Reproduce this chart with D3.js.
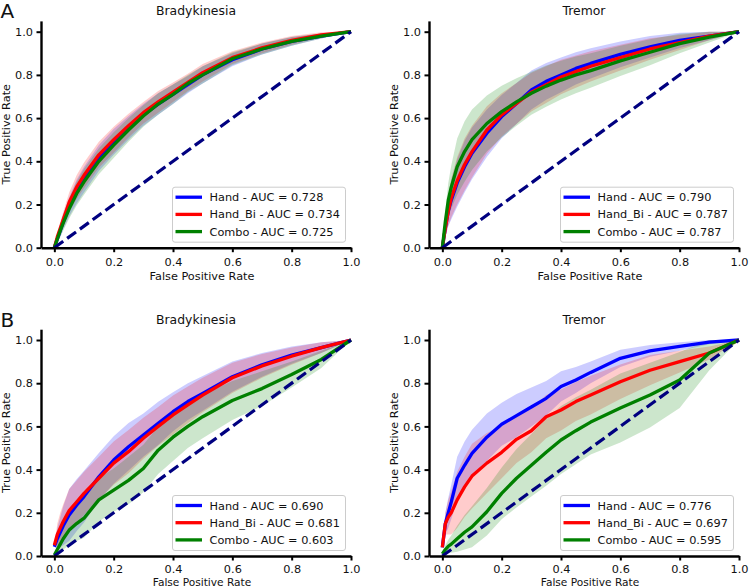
<!DOCTYPE html>
<html>
<head>
<meta charset="utf-8">
<script src="https://cdn.jsdelivr.net/npm/d3@7"></script>
<style>
  body { margin: 0; background: #fff; }
  svg { display: block; font-family: "DejaVu Sans", sans-serif; }
</style>
</head>
<body>
<div id="chart"></div>
<script>
// shared false positive rate grid
const fprGrid = [0, 0.01, 0.02, 0.03, 0.05, 0.075, 0.1, 0.15, 0.2, 0.25, 0.3, 0.35, 0.4, 0.45, 0.5, 0.6, 0.7, 0.8, 0.9, 1.0];
const models = ["Hand", "Hand_Bi", "Combo"];
const modelColors = ["#0000ff", "#ff0000", "#008000"];
const xTicks = [0, 0.2, 0.4, 0.6, 0.8, 1.0];
const yTicks = [0, 0.2, 0.4, 0.6, 0.8, 1.0];

// A - Bradykinesia
const bradyA_auc = [0.728, 0.734, 0.725];
const bradyA_tpr = [
  [0, 0.04, 0.08, 0.12, 0.19, 0.26, 0.315, 0.415, 0.49, 0.555, 0.615, 0.665, 0.71, 0.755, 0.80, 0.87, 0.92, 0.955, 0.98, 1.0],
  [0, 0.05, 0.09, 0.13, 0.21, 0.28, 0.335, 0.43, 0.50, 0.565, 0.625, 0.675, 0.72, 0.765, 0.81, 0.88, 0.925, 0.96, 0.985, 1.0],
  [0, 0.04, 0.08, 0.115, 0.18, 0.25, 0.305, 0.40, 0.475, 0.545, 0.61, 0.665, 0.71, 0.76, 0.80, 0.875, 0.92, 0.955, 0.98, 1.0]
];
const bradyA_sd = [
  [0, 0.02, 0.03, 0.035, 0.045, 0.055, 0.06, 0.06, 0.06, 0.055, 0.05, 0.05, 0.045, 0.04, 0.04, 0.03, 0.025, 0.02, 0.012, 0],
  [0, 0.02, 0.03, 0.035, 0.045, 0.055, 0.06, 0.06, 0.06, 0.055, 0.05, 0.05, 0.045, 0.04, 0.04, 0.03, 0.025, 0.02, 0.012, 0],
  [0, 0.02, 0.03, 0.035, 0.045, 0.055, 0.06, 0.06, 0.06, 0.055, 0.05, 0.05, 0.045, 0.04, 0.04, 0.03, 0.025, 0.02, 0.012, 0]
];

// A - Tremor
const tremorA_auc = [0.790, 0.787, 0.787];
const tremorA_tpr = [
  [0, 0.09, 0.17, 0.22, 0.30, 0.375, 0.437, 0.53, 0.607, 0.668, 0.73, 0.77, 0.80, 0.83, 0.853, 0.895, 0.93, 0.96, 0.98, 1.0],
  [0, 0.09, 0.17, 0.23, 0.31, 0.385, 0.445, 0.545, 0.615, 0.668, 0.72, 0.755, 0.79, 0.815, 0.84, 0.88, 0.92, 0.95, 0.98, 1.0],
  [0, 0.12, 0.22, 0.28, 0.375, 0.445, 0.50, 0.575, 0.63, 0.675, 0.715, 0.748, 0.776, 0.80, 0.82, 0.865, 0.905, 0.945, 0.975, 1.0]
];
const tremorA_sd = [
  [0, 0.04, 0.07, 0.09, 0.11, 0.12, 0.12, 0.11, 0.10, 0.095, 0.09, 0.085, 0.08, 0.075, 0.07, 0.06, 0.05, 0.035, 0.02, 0],
  [0, 0.04, 0.07, 0.09, 0.11, 0.12, 0.12, 0.11, 0.10, 0.095, 0.09, 0.085, 0.08, 0.075, 0.07, 0.06, 0.05, 0.035, 0.02, 0],
  [0, 0.05, 0.08, 0.10, 0.13, 0.14, 0.14, 0.13, 0.12, 0.11, 0.10, 0.095, 0.09, 0.085, 0.08, 0.07, 0.06, 0.045, 0.025, 0]
];

// B - Bradykinesia
const bradyB_auc = [0.690, 0.681, 0.603];
const bradyB_tpr = [
  [0.043, 0.08, 0.11, 0.14, 0.19, 0.235, 0.275, 0.367, 0.444, 0.506, 0.56, 0.614, 0.668, 0.715, 0.753, 0.83, 0.885, 0.93, 0.965, 1.0],
  [0.05, 0.10, 0.13, 0.16, 0.21, 0.25, 0.29, 0.36, 0.43, 0.483, 0.545, 0.60, 0.653, 0.70, 0.745, 0.825, 0.88, 0.925, 0.965, 1.0],
  [0.005, 0.03, 0.055, 0.08, 0.12, 0.15, 0.175, 0.26, 0.305, 0.35, 0.405, 0.49, 0.55, 0.60, 0.645, 0.72, 0.775, 0.84, 0.91, 1.0]
];
const bradyB_sd = [
  [0, 0.05, 0.07, 0.09, 0.12, 0.12, 0.12, 0.11, 0.11, 0.11, 0.10, 0.10, 0.09, 0.085, 0.08, 0.07, 0.055, 0.04, 0.025, 0],
  [0, 0.05, 0.07, 0.08, 0.10, 0.10, 0.10, 0.10, 0.10, 0.10, 0.095, 0.09, 0.09, 0.085, 0.08, 0.07, 0.055, 0.04, 0.025, 0],
  [0, 0.03, 0.04, 0.05, 0.07, 0.08, 0.09, 0.10, 0.10, 0.11, 0.11, 0.11, 0.11, 0.10, 0.10, 0.09, 0.08, 0.06, 0.04, 0]
];

// B - Tremor
const tremorB_auc = [0.776, 0.697, 0.595];
const tremorB_tpr = [
  [0.04, 0.15, 0.20, 0.25, 0.36, 0.42, 0.475, 0.55, 0.61, 0.65, 0.69, 0.73, 0.785, 0.815, 0.85, 0.915, 0.95, 0.97, 0.99, 1.0],
  [0.04, 0.15, 0.18, 0.20, 0.26, 0.32, 0.37, 0.43, 0.48, 0.54, 0.58, 0.645, 0.676, 0.715, 0.745, 0.807, 0.86, 0.90, 0.94, 1.0],
  [0.01, 0.03, 0.045, 0.055, 0.08, 0.11, 0.135, 0.205, 0.29, 0.36, 0.42, 0.48, 0.537, 0.58, 0.62, 0.685, 0.745, 0.815, 0.94, 1.0]
];
const tremorB_sd = [
  [0, 0.05, 0.07, 0.08, 0.10, 0.11, 0.11, 0.11, 0.10, 0.10, 0.09, 0.08, 0.07, 0.06, 0.05, 0.04, 0.027, 0.02, 0.01, 0],
  [0, 0.05, 0.08, 0.10, 0.13, 0.14, 0.15, 0.14, 0.12, 0.11, 0.10, 0.10, 0.095, 0.09, 0.09, 0.08, 0.07, 0.05, 0.03, 0],
  [0, 0.02, 0.03, 0.04, 0.06, 0.08, 0.095, 0.11, 0.12, 0.135, 0.145, 0.155, 0.157, 0.155, 0.15, 0.16, 0.15, 0.13, 0.08, 0]
];

const width = 749, height = 588;
const axW = 310, axH = 226.8;

const panels = [
  { label: "A", title: "Bradykinesia", left: 41, top: 20.9, tpr: bradyA_tpr, sd: bradyA_sd, auc: bradyA_auc },
  { label: null, title: "Tremor", left: 429, top: 20.9, tpr: tremorA_tpr, sd: tremorA_sd, auc: tremorA_auc },
  { label: "B", title: "Bradykinesia", left: 41, top: 329.2, tpr: bradyB_tpr, sd: bradyB_sd, auc: bradyB_auc },
  { label: null, title: "Tremor", left: 429, top: 329.2, tpr: tremorB_tpr, sd: tremorB_sd, auc: tremorB_auc }
];

const svg = d3.select("#chart")
  .append("svg")
  .attr("width", width)
  .attr("height", height);

svg.append("rect").attr("width", width).attr("height", height).attr("fill", "white");

const fs = 11.3;

panels.forEach((p) => {
  const x = d3.scaleLinear().domain([-0.045, 1.0]).range([p.left, p.left + axW]);
  const y = d3.scaleLinear().domain([0, 1.05]).range([p.top + axH, p.top]);
  const g = svg.append("g");
  // bottom row sits close to the page edge, so its x texts are packed tighter
  const tight = p.top + axH + 32 > height - 3;

  // std bands
  p.tpr.forEach((series, k) => {
    const band = d3.area()
      .x((d, i) => x(fprGrid[i]))
      .y0((d, i) => y(Math.max(0, d - p.sd[k][i])))
      .y1((d, i) => y(Math.min(1, d + p.sd[k][i])));
    g.append("path")
      .attr("d", band(series))
      .attr("fill", modelColors[k])
      .attr("fill-opacity", 0.2)
      .attr("stroke", "none");
  });

  // mean ROC lines
  const line = d3.line().x((d, i) => x(fprGrid[i])).y((d) => y(d));
  p.tpr.forEach((series, k) => {
    g.append("path")
      .attr("d", line(series))
      .attr("fill", "none")
      .attr("stroke", modelColors[k])
      .attr("stroke-width", 3.3)
      .attr("stroke-linejoin", "round");
  });

  // chance line
  g.append("line")
    .attr("x1", x(0)).attr("y1", y(0))
    .attr("x2", x(1)).attr("y2", y(1))
    .attr("stroke", "#000080")
    .attr("stroke-width", 3.2)
    .attr("stroke-dasharray", "11,4.8");

  // axes
  const xAxis = g.append("g")
    .attr("transform", `translate(0,${p.top + axH})`)
    .call(d3.axisBottom(x).tickValues(xTicks).tickFormat(d3.format(".1f"))
      .tickSize(4.5).tickSizeOuter(0).tickPadding(tight ? 4.5 : 5.5));
  const yAxis = g.append("g")
    .attr("transform", `translate(${p.left},0)`)
    .call(d3.axisLeft(y).tickValues(yTicks).tickFormat(d3.format(".1f"))
      .tickSize(4.5).tickSizeOuter(0).tickPadding(3.5));
  [xAxis, yAxis].forEach((a) => {
    a.select(".domain").attr("stroke", "#000").attr("stroke-width", 2.4);
    a.selectAll(".tick line").attr("stroke", "#000").attr("stroke-width", 2);
    a.selectAll(".tick text")
      .attr("fill", "#111")
      .style("font-size", fs + "px")
      .style("font-family", "DejaVu Sans");
  });

  // axis labels
  g.append("text")
    .attr("x", p.left + axW / 2 + 6)
    .attr("y", tight ? height - 2.5 : p.top + axH + 32)
    .attr("text-anchor", "middle")
    .style("font-size", (tight ? 10.6 : fs) + "px")
    .attr("fill", "#111")
    .text("False Positive Rate");
  g.append("text")
    .attr("transform", `translate(${p.left - 31.5},${p.top + axH / 2}) rotate(-90)`)
    .attr("text-anchor", "middle")
    .style("font-size", fs + "px")
    .attr("fill", "#111")
    .text("True Positive Rate");

  // title
  g.append("text")
    .attr("x", p.left + axW / 2)
    .attr("y", p.top - 5.5)
    .attr("text-anchor", "middle")
    .style("font-size", "12.4px")
    .attr("fill", "#111")
    .text(p.title);

  if (p.label) {
    g.append("text")
      .attr("x", 0.5)
      .attr("y", p.top - 2.5)
      .style("font-size", "20px")
      .attr("fill", "#111")
      .text(p.label);
  }

  // legend
  const lw = 173, lh = 55;
  const lx = p.left + axW - 5.5 - lw;
  const ly = p.top + axH - 5.5 - lh;
  const leg = g.append("g").attr("transform", `translate(${lx},${ly})`);
  leg.append("rect")
    .attr("width", lw).attr("height", lh)
    .attr("rx", 2.5)
    .attr("fill", "white").attr("fill-opacity", 0.8)
    .attr("stroke", "#cccccc").attr("stroke-width", 1);
  models.forEach((m, k) => {
    const ry = 10 + k * 17.2;
    leg.append("line")
      .attr("x1", 3).attr("x2", 29.5)
      .attr("y1", ry).attr("y2", ry)
      .attr("stroke", modelColors[k])
      .attr("stroke-width", 3.3);
    leg.append("text")
      .attr("x", 37)
      .attr("y", ry)
      .attr("dy", "0.36em")
      .style("font-size", fs + "px")
      .attr("fill", "#111")
      .text(`${m} - AUC = ${p.auc[k].toFixed(3)}`);
  });
});
</script>
</body>
</html>
